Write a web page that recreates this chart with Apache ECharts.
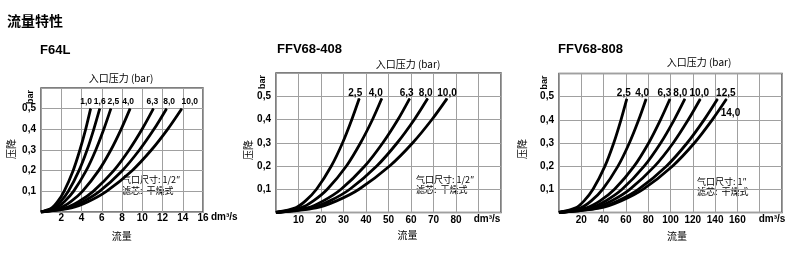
<!DOCTYPE html>
<html><head><meta charset="utf-8">
<script src="https://cdn.jsdelivr.net/npm/echarts@6/dist/echarts.min.js"></script>
<style>html,body{margin:0;padding:0;background:#fff}#c{width:790px;height:255px}</style>
</head><body><div id="c"></div>
<script>
// ---------- DATA ----------
// pressure-drop levels (bar) at which the flow values below were read
const dpLevelsA = [0, 0.02, 0.05, 0.1, 0.2, 0.3, 0.4, 0.5];
const dpLevelsB = [0, 0.02, 0.05, 0.1, 0.2, 0.3, 0.4, 0.49];

// F64L – inlet pressures and flows (dm3/s)
const f64lPressures = ['1,0', '1,6', '2,5', '4,0', '6,3', '8,0', '10,0'];
const f64lFlows = [
  [0, 1.06, 1.64, 2.28, 3.17, 3.84, 4.41, 4.9],
  [0, 1.25, 1.94, 2.70, 3.75, 4.55, 5.21, 5.8],
  [0, 1.49, 2.30, 3.21, 4.46, 5.41, 6.20, 6.9],
  [0, 1.90, 2.94, 4.09, 5.69, 6.90, 7.91, 8.8],
  [0, 2.40, 3.71, 5.16, 7.18, 8.70, 9.98, 11.1],
  [0, 2.68, 4.14, 5.77, 8.02, 9.72, 11.15, 12.4],
  [0, 3.00, 4.64, 6.46, 8.99, 10.9, 12.5, 13.9]
];

// FFV68-408
const ffv408Pressures = ['2,5', '4,0', '6,3', '8,0', '10,0'];
const ffv408Flows = [
  [0, 8.7, 13.1, 18.0, 24.6, 29.6, 33.7, 37],
  [0, 11.0, 16.6, 22.8, 31.3, 37.6, 42.9, 47],
  [0, 13.9, 21.0, 28.9, 39.5, 47.5, 54.2, 59.4],
  [0, 15.8, 23.9, 32.8, 44.8, 53.9, 61.5, 67.4],
  [0, 17.8, 26.9, 36.9, 50.5, 60.8, 69.3, 76]
];

// FFV68-808
const ffv808Pressures = ['2,5', '4,0', '6,3', '8,0', '10,0', '12,5', '14,0'];
const ffv808Flows = [
  [0, 15.1, 22.5, 30.5, 41.2, 49.1, 55.6, 60.8],
  [0, 19.4, 28.9, 39.1, 52.9, 63.1, 71.5, 78.1],
  [0, 24.7, 36.8, 49.8, 67.4, 80.4, 91.0, 99.5],
  [0, 28.0, 41.8, 56.6, 76.4, 91.2, 103.3, 112.9],
  [0, 31.4, 46.9, 63.5, 85.8, 102.4, 115.9, 126.7],
  [0, 35.3, 52.6, 71.2, 96.3, 114.9, 130.1, 142.2],
  [0, 37.2, 55.6, 75.3, 101.7, 121.4, 137.4, 150.2]
];

// axis settings
const xMax = [16, 100, 200];
const xStep = [2, 10, 20];
const xLastLabel = [16, 80, 160];
const yTickLabels = ['0,1', '0,2', '0,3', '0,4', '0,5'];

// ---------- LAYOUT / STYLE ----------
const grids = [
  {left: 41, top: 88, width: 162, height: 124},
  {left: 276, top: 73, width: 225, height: 139.5},
  {left: 559, top: 73.5, width: 223, height: 139}
];
const labelOffsets = [
  [[-4.5, -1], [0, -1], [2.5, -1], [-2, -1], [-1, -1], [2.6, -1], [8, -1]],
  [[-4, 1], [-6, 1], [-3, 1], [-2, 1], [0, 1]],
  [[-3, 1], [-4, 1], [-5.6, 1], [-4.6, 1], [-1, 1], [8.3, 1], null]
];
const tickFont = '"Liberation Sans", Arial, sans-serif';
const cjkFont = '"Noto Sans CJK SC", sans-serif';

function buildSeries(gi, names, flows, dp) {
  return names.map((nm, i) => {
    const pts = flows[i].map((x, j) => [x, dp[j]]);
    const data = pts.map((p, j) => {
      if (j < pts.length - 1) return {value: p, symbol: 'none'};
      const off = labelOffsets[gi][i];
      const lab = off
        ? {show: true, position: 'top', distance: 1, offset: off}
        : {show: true, position: 'bottom', distance: 5, offset: [4, 4]};
      return {
        value: p, symbol: 'circle', symbolSize: 1,
        label: Object.assign({formatter: nm, color: '#000', fontSize: gi === 0 ? 8.5 : 10, fontWeight: 'bold',
          fontFamily: tickFont}, lab)
      };
    });
    return {
      type: 'line', name: nm, xAxisIndex: gi, yAxisIndex: gi,
      data, smooth: 0.3,
      lineStyle: {color: '#000', width: 2.8},
      itemStyle: {color: '#000'},
      silent: true, animation: false, emphasis: {disabled: true}
    };
  });
}

const series = [].concat(
  buildSeries(0, f64lPressures, f64lFlows, dpLevelsA),
  buildSeries(1, ffv408Pressures, ffv408Flows, dpLevelsB),
  buildSeries(2, ffv808Pressures, ffv808Flows, dpLevelsB)
);

const xAxis = grids.map((g, i) => ({
  type: 'value', gridIndex: i, min: 0, max: xMax[i], interval: xStep[i],
  axisLine: {show: false}, axisTick: {show: false},
  splitLine: {show: true, lineStyle: {color: '#a0a0a0', width: 1}},
  axisLabel: {
    margin: i === 0 ? 1 : 3, color: '#000', fontSize: 10, fontWeight: 'bold', fontFamily: tickFont,
    formatter: v => (v > 0 && v <= xLastLabel[i]) ? String(v) : ''
  }
}));
const yAxis = grids.map((g, i) => ({
  type: 'value', gridIndex: i, min: 0, max: 0.6, interval: 0.1,
  axisLine: {show: false}, axisTick: {show: false},
  splitLine: {show: true, lineStyle: {color: '#a0a0a0', width: 1}},
  axisLabel: {
    margin: 5, color: '#000', fontSize: 10, fontWeight: 'bold', fontFamily: tickFont,
    formatter: v => { const k = Math.round(v * 10); return (k >= 1 && k <= 5) ? yTickLabels[k - 1] : ''; }
  }
}));

function txt(x, y, text, font, opts) {
  return Object.assign({
    type: 'text', x, y, silent: true,
    style: {text, font, fill: '#000', align: 'center', verticalAlign: 'middle'}
  }, opts || {});
}
function rtxt(x, y, text, font) {
  return txt(x, y, text, font, {rotation: Math.PI / 2});
}
function lefttxt(x, y, text, font) {
  const t = txt(x, y, text, font);
  t.style.align = 'left';
  return t;
}

const graphic = [
  lefttxt(7, 21, '流量特性', 'bold 14px ' + cjkFont),
  lefttxt(40, 50.5, 'F64L', 'bold 13px ' + tickFont),
  lefttxt(277, 49.5, 'FFV68-408', 'bold 13px ' + tickFont),
  lefttxt(558, 49.5, 'FFV68-808', 'bold 13px ' + tickFont),
  txt(121, 78.5, '入口压力 (bar)', '10px ' + cjkFont),
  txt(408, 64, '入口压力 (bar)', '10px ' + cjkFont),
  txt(699, 62, '入口压力 (bar)', '10px ' + cjkFont),
  rtxt(30.5, 97, 'bar', 'bold 9px ' + tickFont),
  rtxt(263, 82, 'bar', 'bold 9px ' + tickFont),
  rtxt(545, 82.5, 'bar', 'bold 9px ' + tickFont),
  rtxt(11.5, 149, '压降', '10px ' + cjkFont),
  rtxt(248, 150, '压降', '10px ' + cjkFont),
  rtxt(522, 149, '压降', '10px ' + cjkFont),
  txt(121.7, 236.5, '流量', '10px ' + cjkFont),
  txt(407.5, 235, '流量', '10px ' + cjkFont),
  txt(677, 236, '流量', '10px ' + cjkFont),
  lefttxt(211, 217.3, 'dm³/s', 'bold 10px ' + tickFont),
  txt(487, 219.5, 'dm³/s', 'bold 10px ' + tickFont),
  txt(772, 219.5, 'dm³/s', 'bold 10px ' + tickFont),
  lefttxt(122, 179.5, '气口尺寸: 1/2″', '9px ' + cjkFont),
  lefttxt(122, 190.5, '滤芯:  干燥式', '9px ' + cjkFont),
  lefttxt(416, 179.5, '气口尺寸: 1/2″', '9px ' + cjkFont),
  lefttxt(416, 190, '滤芯:  干燥式', '9px ' + cjkFont),
  lefttxt(697, 181.5, '气口尺寸: 1″', '9px ' + cjkFont),
  lefttxt(697, 192, '滤芯:  干燥式', '9px ' + cjkFont)
];

const chart = echarts.init(document.getElementById('c'), null, {renderer: 'canvas'});
chart.setOption({
  backgroundColor: '#fff',
  animation: false,
  grid: grids.map(g => Object.assign({show: true, borderColor: '#555', borderWidth: 1.5, backgroundColor: 'transparent', containLabel: false}, g)),
  xAxis, yAxis, series, graphic
});
</script></body></html>
